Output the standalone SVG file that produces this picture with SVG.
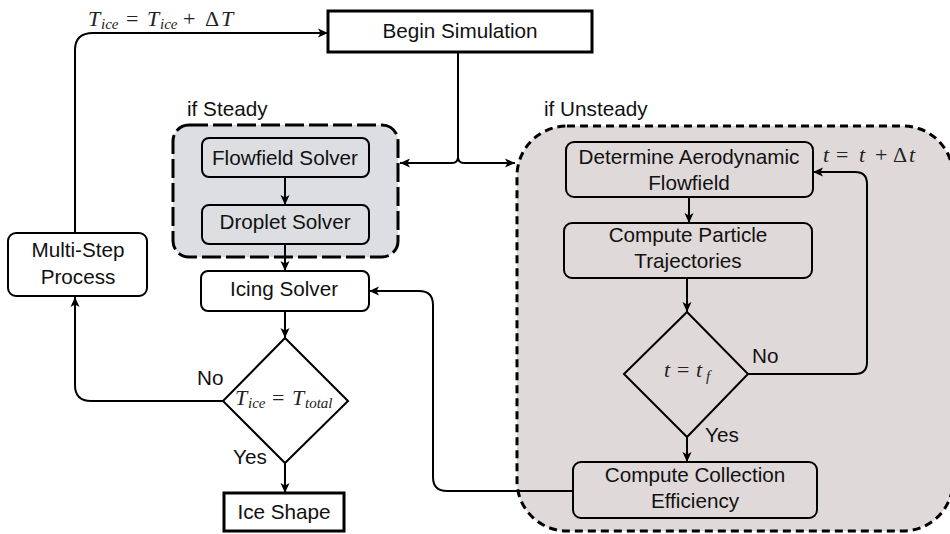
<svg xmlns="http://www.w3.org/2000/svg" width="950" height="534" viewBox="0 0 950 534">
  <defs>
    <marker id="arrow" viewBox="0 0 10 10" refX="10" refY="5" markerWidth="10" markerHeight="10" markerUnits="userSpaceOnUse" orient="auto">
      <path d="M0,0.5 L10,5 L0,9.5 L2.5,5 Z" fill="#000"/>
    </marker>
    <style>
      .lbl { font-family: "Liberation Sans", Arial, sans-serif; font-size: 20.7px; fill: #111; }
      .mid { text-anchor: middle; }
      .math { font-family: "Liberation Serif", "Times New Roman", serif; font-style: italic; font-size: 22px; fill: #222; }
      .sub { font-size: 15px; }
      .up { font-style: normal; }
      .box { fill: #fff; stroke: #000; stroke-width: 2; }
      .thick { fill: #fff; stroke: #000; stroke-width: 3; }
      .inner { stroke: #000; stroke-width: 2; }
      .wire { fill: none; stroke: #000; stroke-width: 2; }
      .arr { marker-end: url(#arrow); }
    </style>
  </defs>

  <rect width="950" height="534" fill="#fff"/>

  <!-- steady container -->
  <g id="steady">
    <rect x="173" y="125" width="225" height="132" rx="16" fill="#dcdee2" stroke="#000" stroke-width="3" stroke-dasharray="19 5"/>
    <text class="lbl" x="187" y="116">if Steady</text>
  </g>

  <!-- unsteady container -->
  <g id="unsteady">
    <rect x="517" y="126" width="436" height="405" rx="50" fill="#e0d9da" stroke="#000" stroke-width="3" stroke-dasharray="8 5"/>
    <text class="lbl" x="544" y="116">if Unsteady</text>
  </g>

  <g id="begin">
    <rect class="thick" x="328" y="11" width="264" height="41"/>
    <text class="lbl mid" x="460" y="38">Begin Simulation</text>
  </g>

  <g id="flowfield">
    <rect class="inner" x="202" y="138" width="167" height="39" rx="7" fill="#dcdee2"/>
    <text class="lbl mid" x="285" y="165">Flowfield Solver</text>
  </g>

  <g id="droplet">
    <rect class="inner" x="202" y="205" width="167" height="39" rx="7" fill="#dcdee2"/>
    <text class="lbl mid" x="285" y="229">Droplet Solver</text>
  </g>

  <g id="icing">
    <rect class="box" x="201" y="271" width="168" height="40" rx="7"/>
    <text class="lbl mid" x="284" y="296">Icing Solver</text>
  </g>

  <g id="check-ice">
    <path class="box" d="M285,338 L348,401 L285,463 L223,401 Z"/>
    <text class="math" y="405">
      <tspan x="235">T</tspan><tspan class="sub" x="248" dy="3">ice</tspan><tspan class="up" x="272" dy="-3">=</tspan><tspan x="292">T</tspan><tspan class="sub" x="305" dy="3">total</tspan>
    </text>
  </g>

  <g id="ice-shape">
    <rect class="thick" x="224" y="493" width="120" height="38"/>
    <text class="lbl mid" x="284" y="519">Ice Shape</text>
  </g>

  <g id="multi-step">
    <rect class="box" x="8" y="233" width="139" height="63" rx="8"/>
    <text class="lbl mid" x="78" y="257">Multi-Step</text>
    <text class="lbl mid" x="78" y="284">Process</text>
  </g>

  <g id="aero">
    <rect class="inner" x="566" y="142" width="247" height="55" rx="8" fill="none"/>
    <text class="lbl mid" x="689" y="164">Determine Aerodynamic</text>
    <text class="lbl mid" x="689" y="190">Flowfield</text>
  </g>

  <g id="trajectories">
    <rect class="inner" x="564" y="223" width="248" height="55" rx="8" fill="none"/>
    <text class="lbl mid" x="688" y="242">Compute Particle</text>
    <text class="lbl mid" x="688" y="268">Trajectories</text>
  </g>

  <g id="check-time">
    <path class="inner" fill="none" d="M687,312 L748,374 L687,437 L624,374 Z"/>
    <text class="math" y="377">
      <tspan x="664">t</tspan><tspan class="up" x="677">=</tspan><tspan x="696">t</tspan><tspan class="sub" x="706" dy="4">f</tspan>
    </text>
  </g>

  <g id="collection">
    <rect class="inner" x="573" y="462" width="244" height="56" rx="8" fill="none"/>
    <text class="lbl mid" x="695" y="482">Compute Collection</text>
    <text class="lbl mid" x="695" y="508">Efficiency</text>
  </g>

  <!-- connectors -->
  <g id="connectors">
    <path class="wire arr" d="M458,52 V157 Q458,163 452,163 H400"/>
    <path class="wire arr" d="M458,157 Q458,163 464,163 H515"/>
    <path class="wire arr" d="M285,177 V205"/>
    <path class="wire arr" d="M285,244 V271"/>
    <path class="wire arr" d="M285,311 V338"/>
    <path class="wire arr" d="M285,463 V493"/>
    <path class="wire arr" d="M223,401 H91 Q75,401 75,385 V297"/>
    <path class="wire arr" d="M75,233 V50 Q75,33 93,33 H328"/>
    <path class="wire arr" d="M689,197 V223"/>
    <path class="wire arr" d="M687,278 V312"/>
    <path class="wire arr" d="M687,437 V462"/>
    <path class="wire arr" d="M748,374 H855 Q867,374 867,362 V184 Q867,172 855,172 H813"/>
    <path class="wire arr" d="M573,491 H447 Q433,491 433,477 V305 Q433,291 419,291 H369"/>
  </g>

  <!-- edge labels -->
  <g id="labels">
    <text class="math" y="26">
      <tspan x="88">T</tspan><tspan class="sub" x="101" dy="3">ice</tspan><tspan class="up" x="126" dy="-3">=</tspan><tspan x="147">T</tspan><tspan class="sub" x="160" dy="3">ice</tspan><tspan class="up" x="183" dy="-3">+</tspan><tspan class="up" x="205">Δ</tspan><tspan x="221">T</tspan>
    </text>
    <text class="math" y="162">
      <tspan x="823">t</tspan><tspan class="up" x="836">=</tspan><tspan x="859">t</tspan><tspan class="up" x="875">+</tspan><tspan class="up" x="893">Δ</tspan><tspan x="909">t</tspan>
    </text>
    <text class="lbl" x="197" y="385">No</text>
    <text class="lbl" x="233" y="464">Yes</text>
    <text class="lbl" x="752" y="363">No</text>
    <text class="lbl" x="705" y="442">Yes</text>
  </g>
</svg>
